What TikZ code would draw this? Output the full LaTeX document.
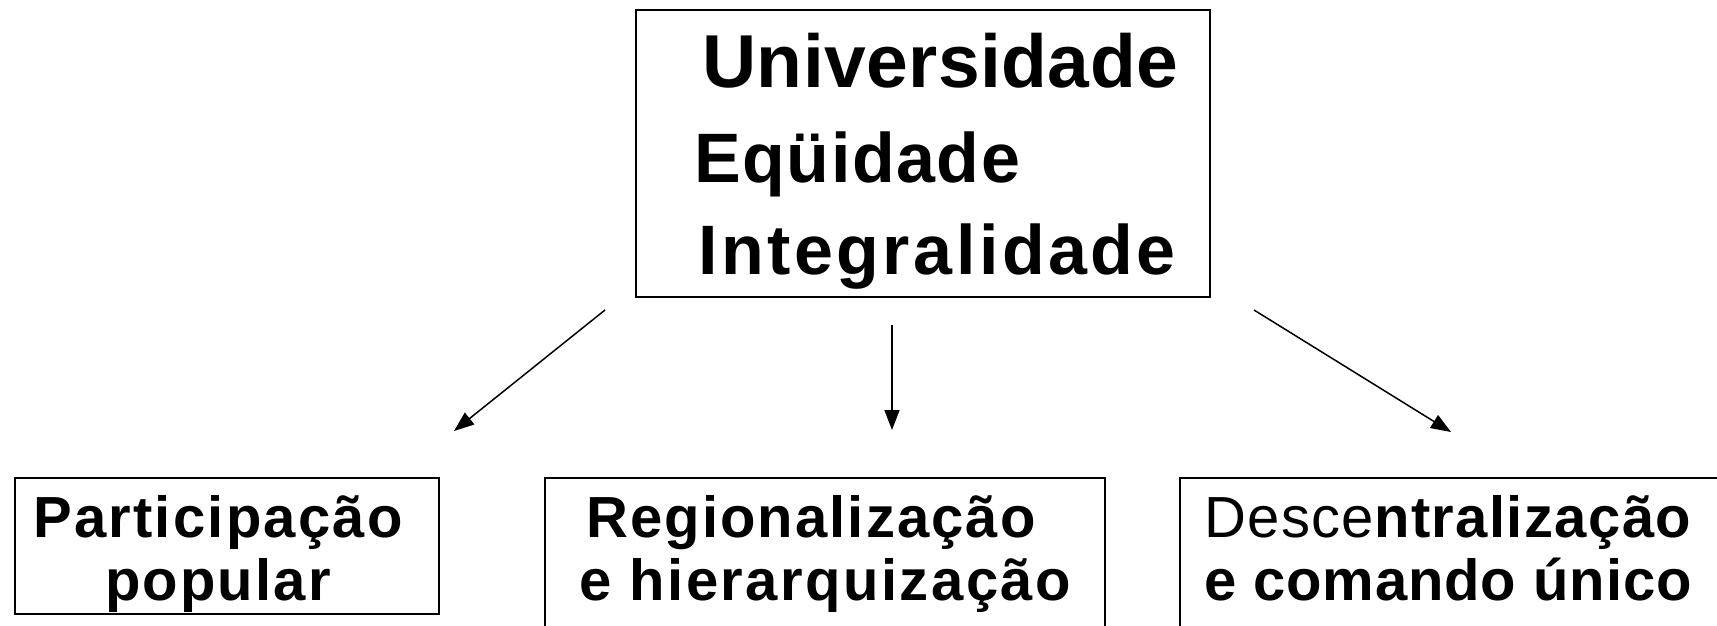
\documentclass[tikz,border=0pt]{standalone}
\usepackage{fontspec}
\setmainfont{Liberation Sans}
\usetikzlibrary{arrows.meta}
\newcommand{\ls}[1]{\addfontfeature{LetterSpace=#1}}
\tikzset{
  boxframe/.style={draw=black, line width=1.6pt, inner sep=0pt, anchor=north west},
  bigtxt/.style={anchor=base west, inner sep=0pt, font=\fontsize{70}{84}\selectfont\bfseries},
  smalltxt/.style={anchor=base, inner sep=0pt, font=\fontsize{58}{70}\selectfont\bfseries},
  arr/.style={line width=1.5pt, -{Triangle[length=20pt,width=15pt]}}
}
\begin{document}
\begin{tikzpicture}[x=1pt,y=-1pt]
\useasboundingbox (0,0) rectangle (1717,625);
\clip (0,0) rectangle (1717,625);
% top box
\node[boxframe, minimum width=574pt, minimum height=287pt] (top) at (635,9) {};
\node[bigtxt, font=\fontsize{75}{86}\selectfont\bfseries] (t1) at (702,87) {\ls{0.6}Universidade};
\node[bigtxt] (t2) at (694,182) {\ls{2.2}Eqüidade};
\node[bigtxt] (t3) at (698,274) {\ls{5}Integralidade};
% bottom boxes
\node[boxframe, minimum width=424pt, minimum height=136pt] (left) at (14,477) {};
\node[boxframe, minimum width=560pt, minimum height=180pt] (mid) at (544,477) {};
\node[boxframe, minimum width=580pt, minimum height=180pt] (right) at (1179,477) {};
\node[smalltxt] (l1) at (218,537) {\ls{3.8}Participação};
\node[smalltxt] (l2) at (218,600) {\ls{3.8}popular};
\node[smalltxt] (m1) at (811,537) {\ls{3.6}Regionalização};
\node[smalltxt] (m2) at (825,600) {\ls{4.2}e hierarquização};
\node[smalltxt, anchor=base west] (r1) at (1204,537) {\ls{2.4}{\mdseries Desce}ntralização};
\node[smalltxt, anchor=base west] (r2) at (1204,600) {\ls{1.5}e comando único};
% arrows
\coordinate (a1s) at (605,310);
\coordinate (a1e) at (454,431);
\coordinate (a2s) at (892,325);
\coordinate (a2e) at (892,430);
\coordinate (a3s) at (1254,310);
\coordinate (a3e) at (1451,432);
\draw[arr] (a1s) -- (a1e);
\draw[arr] (a2s) -- (a2e);
\draw[arr] (a3s) -- (a3e);
\end{tikzpicture}
\end{document}
